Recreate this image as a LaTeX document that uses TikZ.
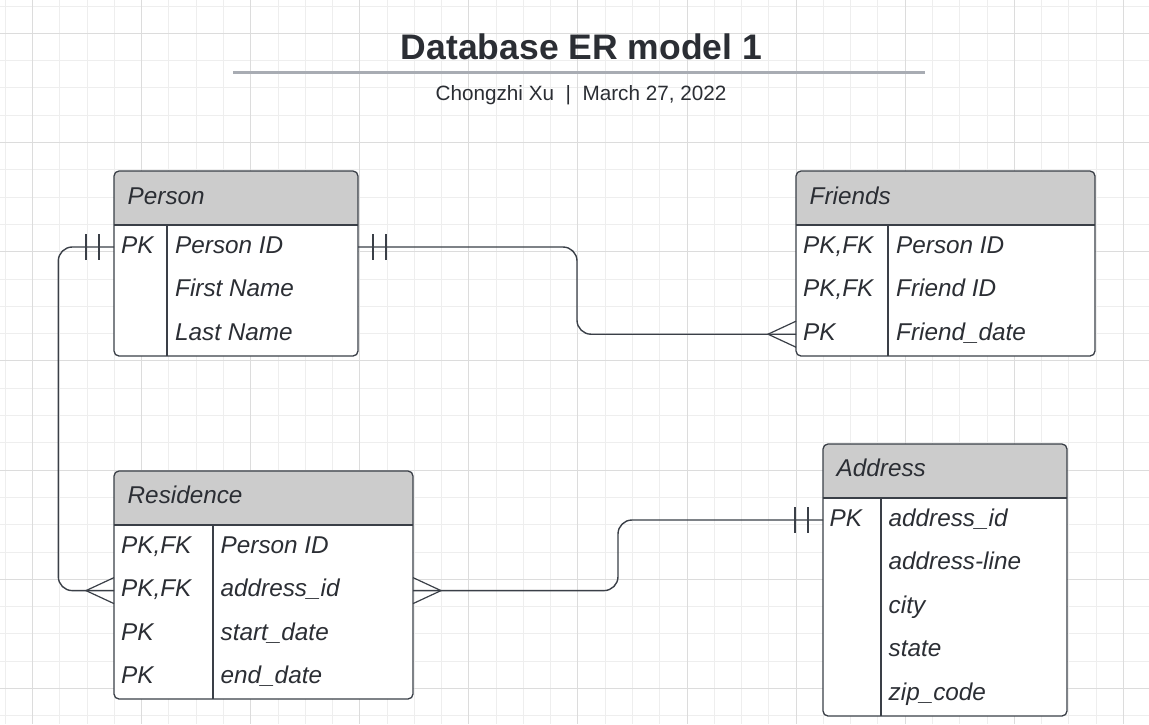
\documentclass[tikz,border=0pt]{standalone}
\usepackage{fontspec}
\setmainfont{Liberation Sans}
\usetikzlibrary{calc}
\definecolor{lc}{HTML}{3A3F47}
\definecolor{tc}{HTML}{2B2E34}
\definecolor{hf}{HTML}{CCCCCC}
\definecolor{gmin}{HTML}{EEEEEE}
\definecolor{gmaj}{HTML}{DCDCDC}
\definecolor{ul}{HTML}{A8ACB3}
\tikzset{
  cell/.style={anchor=base west, inner sep=0pt, text=tc, font=\fontsize{24.3}{29}\selectfont\itshape},
  tblbox/.style={fill=white, anchor=north west, inner sep=0pt, outer sep=0pt, rounded corners=5pt},
  border/.style={draw=lc, line width=1.3pt, rounded corners=5pt},
  inner/.style={draw=lc, line width=1.3pt},
  conn/.style={draw=lc, line width=1.4pt},
  tip/.style={draw=lc, line width=1.2pt},
  gridmin/.style={draw=gmin, line width=1pt},
  gridmaj/.style={draw=gmaj, line width=1pt},
}
% name, x, y, width, height, header height, divider offset
\newcommand\ertable[7]{%
  \node[tblbox, minimum width=#4pt, minimum height=#5pt] (#1) at (#2,#3) {};
  \fill[hf] ($(#1.north west)+(0,#6)$) {[rounded corners=5pt] -- (#1.north west) -- (#1.north east)} -- ($(#1.north east)+(0,#6)$) -- cycle;
  \draw[inner] ($(#1.north west)+(0,#6)$) -- ($(#1.north east)+(0,#6)$);
  \draw[inner] ($(#1.north west)+(#7,#6)$) -- ($(#1.south west)+(#7,0)$);
  \draw[border] (#1.north west) rectangle (#1.south east);
}
\newcommand\crowfoot[2]{\draw[tip] ($(#1)+(0,-13)$) -- ($(#1)+(#2,0)$) -- ($(#1)+(0,13)$);}
\newcommand\onebar[2]{\draw[tip] ($(#1)+(#2,-13)$) -- ($(#1)+(#2,13)$);}
\begin{document}
\begin{tikzpicture}[x=1pt,y=-1pt]
\useasboundingbox (0,0) rectangle (1149,724);
\fill[white] (0,0) rectangle (1149,724);
% grid
\foreach \i in {0,...,42} {
  \pgfmathsetmacro\gx{5.3+27.27*\i}
  \draw[gridmin] (\gx,0) -- (\gx,724);
}
\foreach \i in {0,...,26} {
  \pgfmathsetmacro\gy{6+27.3*\i}
  \draw[gridmin] (0,\gy) -- (1149,\gy);
}
\foreach \i in {1,5,...,41} {
  \pgfmathsetmacro\gx{5.3+27.27*\i}
  \draw[gridmaj] (\gx,0) -- (\gx,724);
}
\foreach \i in {1,5,...,25} {
  \pgfmathsetmacro\gy{6+27.3*\i}
  \draw[gridmaj] (0,\gy) -- (1149,\gy);
}
% title
\node[anchor=base, inner sep=0pt, text=tc, font=\fontsize{35.5}{40}\selectfont\bfseries] (title) at (581.5,59.3) {Database ER model 1};
\draw[ul, line width=3pt] (233,72.3) -- (925,72.3);
\node[anchor=base, inner sep=0pt, text=tc, font=\fontsize{20.7}{24}\selectfont] (subtitle) at (581,100.7) {Chongzhi Xu\ \ |\ \ March 27, 2022};

% tables
\ertable{person}{114}{171}{244}{185}{54}{53}
\ertable{friends}{796}{171}{299}{185}{54}{92}
\ertable{residence}{114}{471}{299}{228}{54}{99}
\ertable{address}{823}{444}{244}{272}{54}{58}

% Person
\node[cell] (personh) at (127.5,204) {Person};
\node[cell] (p1k) at (121,253) {PK};
\node[cell] (p1) at (175,253) {Person ID};
\node[cell] (p2) at (175,296.6) {First Name};
\node[cell] (p3) at (175,340.2) {Last Name};
% Friends
\node[cell] (friendsh) at (809.5,204) {Friends};
\node[cell] (f1k) at (803,253) {PK,FK};
\node[cell] (f1) at (896,253) {Person ID};
\node[cell] (f2k) at (803,296.6) {PK,FK};
\node[cell] (f2) at (896,296.6) {Friend ID};
\node[cell] (f3k) at (803,340.2) {PK};
\node[cell] (f3) at (896,340.2) {Friend\_date};
% Residence
\node[cell] (residenceh) at (127.5,503.5) {Residence};
\node[cell] (r1k) at (121,553) {PK,FK};
\node[cell] (r1) at (220.5,553) {Person ID};
\node[cell] (r2k) at (121,596.6) {PK,FK};
\node[cell] (r2) at (220.5,596.6) {address\_id};
\node[cell] (r3k) at (121,640.2) {PK};
\node[cell] (r3) at (220.5,640.2) {start\_date};
\node[cell] (r4k) at (121,683.8) {PK};
\node[cell] (r4) at (220.5,683.8) {end\_date};
% Address
\node[cell] (addressh) at (836.5,476.5) {Address};
\node[cell] (a1k) at (829.5,526) {PK};
\node[cell] (a1) at (888.5,526) {address\_id};
\node[cell] (a2) at (888.5,569.6) {address-line};
\node[cell] (a3) at (888.5,613.2) {city};
\node[cell] (a4) at (888.5,656.8) {state};
\node[cell] (a5) at (888.5,700.4) {zip\_code};

% ports
\coordinate (pW) at ($(person.north west)+(0,76)$);
\coordinate (pE) at ($(person.north east)+(0,76)$);
\coordinate (fW) at ($(friends.north west)+(0,163.2)$);
\coordinate (rW) at ($(residence.north west)+(0,119.6)$);
\coordinate (rE) at ($(residence.north east)+(0,119.6)$);
\coordinate (aW) at ($(address.north west)+(0,76)$);

% connectors
\draw[conn, rounded corners=14pt] (pW) -- ([xshift=-55.7pt]pW) |- (rW);
\draw[conn, rounded corners=14pt] (pE) -| ($(pE)!.5!(fW)$) |- (fW);
\draw[conn, rounded corners=14pt] (rE) -| ($(rE)!.5!(aW)$) |- (aW);

% ends
\onebar{pW}{-15}\onebar{pW}{-28}
\onebar{pE}{15}\onebar{pE}{28}
\onebar{aW}{-15}\onebar{aW}{-28}
\crowfoot{rW}{-28}
\crowfoot{rE}{28}
\crowfoot{fW}{-28}
\end{tikzpicture}
\end{document}
